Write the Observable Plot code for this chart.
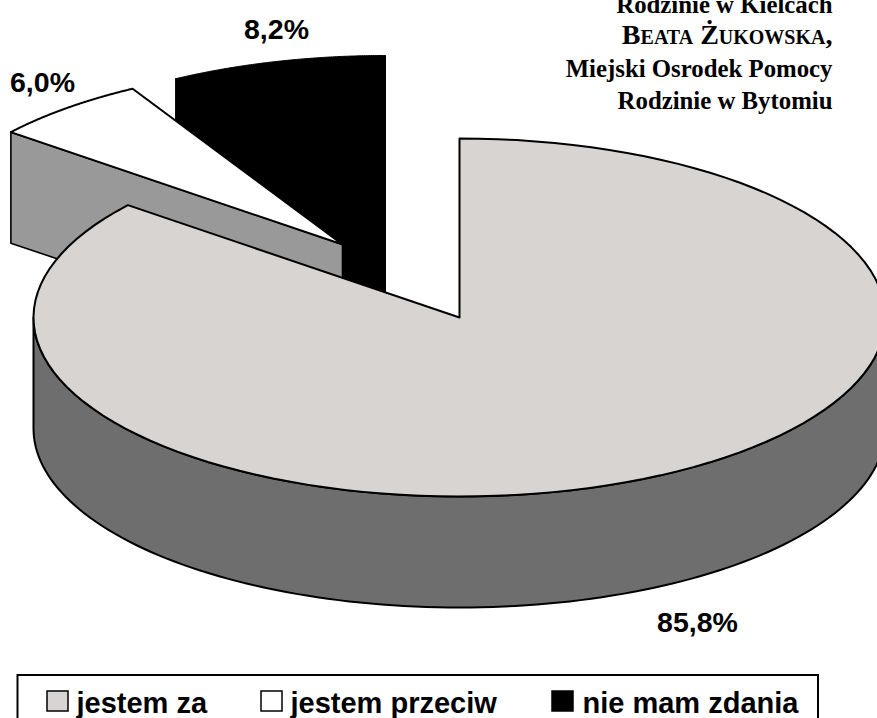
<!DOCTYPE html>
<html><head><meta charset="utf-8">
<script src="https://cdn.jsdelivr.net/npm/d3@7"></script>
<script src="https://cdn.jsdelivr.net/npm/@observablehq/plot@0.6"></script>
<style>html,body{margin:0;padding:0;background:#fff;overflow:hidden}svg{display:block}</style>
</head><body><div id="chart"></div>
<script>
const categories = ["jestem za", "jestem przeciw", "nie mam zdania"];
const shares = [85.8, 6.0, 8.2];
const shareLabels = ["85,8%", "6,0%", "8,2%"];
const topColors = ["#d7d4d1", "#ffffff", "#000000"];
const noteLines = ["Rodzinie w Kielcach", "Beata Żukowska,", "Miejski Osrodek Pomocy", "Rodzinie w Bytomiu"];

const rx = 426, ry = 179, depth = 111;
const centers = [[459, 317], [342, 244], [385, 234]];
let acc = 0;
const slices = shares.map((s, i) => {
  const a0 = acc / 100 * 2 * Math.PI; acc += s;
  return {i, a0, a1: acc / 100 * 2 * Math.PI, c: centers[i]};
});
const rim = (c, a, dy = 0) => ({x: c[0] + rx * Math.sin(a), y: c[1] - ry * Math.cos(a) + dy});
const arc = (s, a0, a1, dy = 0) => d3.range(0, 121).map(k => rim(s.c, a0 + (a1 - a0) * k / 120, dy));
const sliceTop = s => { const c = {x: s.c[0], y: s.c[1]}; return [c, ...arc(s, s.a0, s.a1), c]; };
const closed = p => [...p, p[0]];

const [gray, white, black] = slices;
// Outer wall of the large slice, from 3 o'clock round the front to 9 o'clock
const wall = closed([...arc(gray, Math.PI / 2, 3 * Math.PI / 2), ...arc(gray, 3 * Math.PI / 2, Math.PI / 2, depth)]);
// Cut face of the white slice
const wa = rim(white.c, white.a0);
const face = closed([wa, {x: white.c[0], y: white.c[1]}, {x: white.c[0], y: white.c[1] + depth}, {x: wa.x, y: wa.y + depth}]);
// Black slice: top and cut faces, all one silhouette
const b0 = rim(black.c, black.a0);
const blackBody = closed([b0, ...arc(black, black.a0, black.a1), {x: black.c[0], y: black.c[1] + depth}, {x: b0.x, y: b0.y + depth}]);

const poly = (pts, fill, sw = 1.6, stroke = "#000") => Plot.line(pts, {x: "x", y: "y", fill, stroke, strokeWidth: sw, strokeLinejoin: "round", curve: "linear"});
const sans = "Liberation Sans, Arial, sans-serif";
const serif = "Liberation Serif, serif";

const labelData = [{t: shareLabels[0], x: 697, y: 622}, {t: shareLabels[1], x: 42, y: 82}, {t: shareLabels[2], x: 276, y: 29}];
const noteBaselines = [12, 43, 76, 108];
const noteData = noteLines.map((t, i) => ({t, y: noteBaselines[i], i}));
const legendData = categories.map((t, i) => ({t, i}));
const swatchX = [47, 261, 552], labelX = [76, 290, 582];

const noteText = (data, extra) => Plot.text(data, {x: () => 832, y: "y", text: "t", textAnchor: "end", lineAnchor: "bottom", fontFamily: serif, fontWeight: "bold", fill: "#000", ...extra});

const chart = Plot.plot({
  width: 877, height: 718, margin: 0,
  x: {domain: [0, 877], range: [0, 877], axis: null},
  y: {domain: [0, 718], range: [0, 718], axis: null},
  marks: [
    poly(blackBody, topColors[2], 1),
    poly(face, "#999999", 1.6),
    poly(sliceTop(white), topColors[1], 2),
    poly(wall, "#6e6e6e", 2),
    poly(sliceTop(gray), topColors[0], 2),
    Plot.text(labelData, {x: "x", y: "y", text: "t", fontFamily: sans, fontWeight: "bold", fontSize: 28.5, fill: "#000"}),
    noteText(noteData.filter(d => d.i !== 1), {fontSize: 24.8}),
    noteText(noteData.filter(d => d.i === 1), {fontSize: 28, fontVariant: "small-caps"}),
    Plot.rect([{}], {x1: () => 17.5, x2: () => 818, y1: () => 675, y2: () => 730, fill: "#fff", stroke: "#000", strokeWidth: 2}),
    Plot.rect(legendData, {x1: d => swatchX[d.i], x2: d => swatchX[d.i] + 21, y1: () => 691, y2: () => 711, fill: d => topColors[d.i], stroke: "#000", strokeWidth: 1.5}),
    Plot.text(legendData, {x: d => labelX[d.i], y: () => 703, text: "t", textAnchor: "start", fontFamily: sans, fontWeight: "bold", fontSize: 29, fill: "#000"})
  ]
});
document.getElementById("chart").append(chart);
</script></body></html>
